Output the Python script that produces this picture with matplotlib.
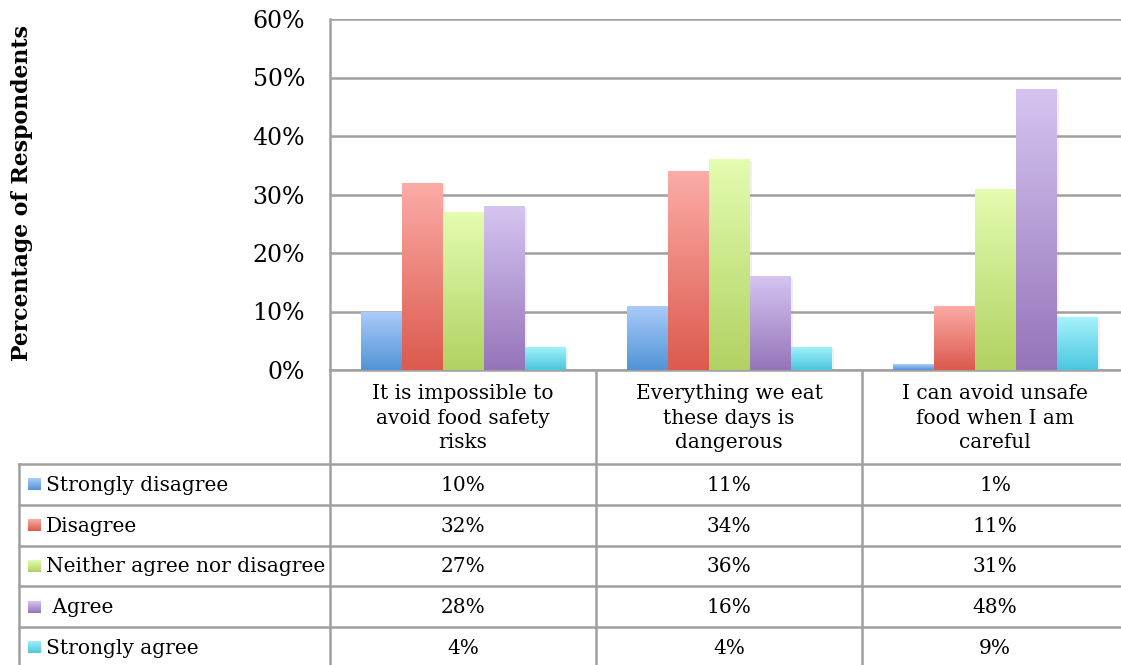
import numpy as np
import matplotlib
matplotlib.use("Agg")
import matplotlib.pyplot as plt
from matplotlib.lines import Line2D
import matplotlib.patheffects as pe
from matplotlib.colors import to_rgb

# ---- data -------------------------------------------------------------
statements = [
    "It is impossible to\navoid food safety\nrisks",
    "Everything we eat\nthese days is\ndangerous",
    "I can avoid unsafe\nfood when I am\ncareful",
]
responses = ["Strongly disagree", "Disagree", "Neither agree nor disagree",
             " Agree", "Strongly agree"]
strongly_disagree = [10, 11, 1]
disagree = [32, 34, 11]
neither = [27, 36, 31]
agree = [28, 16, 48]
strongly_agree = [4, 4, 9]
series = [strongly_disagree, disagree, neither, agree, strongly_agree]

y_ticks = [0, 10, 20, 30, 40, 50, 60]
y_label = "Percentage of Respondents"

# gradient colours (top, bottom) per response
shades = [("#aacbfa", "#5294d6"),
          ("#fbaca6", "#dc5a4e"),
          ("#e3fcb0", "#b1d262"),
          ("#d5c4f0", "#9575ba"),
          ("#a4f2fc", "#4cc6df")]

# ---- figure -----------------------------------------------------------
W, H = 1121, 665
fig = plt.figure(figsize=(W / 100, H / 100), dpi=100)
fig.patch.set_facecolor("white")
FONT = "DejaVu Serif"
GRID = "#a0a0a0"


def fx(x):
    return x / W


def fy(y):
    return 1 - y / H


plot_left, plot_top, plot_bottom, col_w = 330, 19, 370, 266
ax = fig.add_axes([fx(plot_left), fy(plot_bottom), 3 * col_w / W,
                   (plot_bottom - plot_top) / H])
ax.set_xlim(-0.5, 2.5)
ax.set_ylim(0, 60)


def gradient(top, bottom, n=64):
    t = np.linspace(0, 1, n)[:, None]
    c0, c1 = np.array(to_rgb(top)), np.array(to_rgb(bottom))
    return (c0 * (1 - t) + c1 * t)[:, None, :]


bar_w = 41 / col_w
x = np.arange(len(statements))
for i, vals in enumerate(series):
    top, bottom = shades[i]
    bars = ax.bar(x + (i - 2) * bar_w, vals, width=bar_w, color=bottom,
                  linewidth=0, zorder=3)
    for b in bars:
        b.set_path_effects([pe.SimplePatchShadow(offset=(2, -1),
                                                 shadow_rgbFace="#999999",
                                                 alpha=0.14), pe.Normal()])
        x0, y0 = b.get_x(), b.get_y()
        im = ax.imshow(gradient(top, bottom),
                       extent=(x0, x0 + b.get_width(), y0, y0 + b.get_height()),
                       aspect="auto", origin="upper", zorder=4,
                       interpolation="bilinear")
        im.set_clip_path(b)

ax.set_xlim(-0.5, 2.5)
ax.set_ylim(0, 60)
ax.set_yticks(y_ticks)
ax.set_yticklabels([f"{t}%" for t in y_ticks], fontfamily=FONT, fontsize=17)
ax.tick_params(axis="y", length=0, pad=18)
ax.set_xticks([])
ax.yaxis.grid(True, color=GRID, linewidth=1.8, zorder=0)
ax.set_axisbelow(True)
for s in ["top", "right"]:
    ax.spines[s].set_visible(False)
for s in ["left", "bottom"]:
    ax.spines[s].set_color(GRID)
    ax.spines[s].set_linewidth(1.8)

fig.text(fx(22), fy(193), y_label, rotation=90, ha="center", va="center",
         fontfamily=FONT, fontweight="bold", fontsize=15.8)

# ---- data table ---------------------------------------------------------
header_bottom = 464
row_h = 40.75
table_left = 19
col_edges = [plot_left + k * col_w for k in range(len(statements) + 1)]


def hline(y, x0, x1):
    fig.add_artist(Line2D([fx(x0), fx(x1)], [fy(y), fy(y)], color=GRID,
                          linewidth=1.8))


def vline(x_, y0, y1):
    fig.add_artist(Line2D([fx(x_), fx(x_)], [fy(y0), fy(y1)], color=GRID,
                          linewidth=1.8))


vline(plot_left, plot_bottom, H)
for e in col_edges[1:-1]:
    vline(e, plot_bottom, H)
vline(table_left, header_bottom, H)
for r in range(len(responses)):
    hline(header_bottom + r * row_h, table_left, W)

for j, lab in enumerate(statements):
    cx = (col_edges[j] + col_edges[j + 1]) / 2
    fig.text(fx(cx), fy((plot_bottom + header_bottom) / 2 + 1), lab,
             ha="center", va="center", fontfamily=FONT, fontsize=14.5,
             linespacing=1.35)

for r, (name, vals) in enumerate(zip(responses, series)):
    cy = header_bottom + (r + 0.5) * row_h
    fig.text(fx(46), fy(cy + 1), name, ha="left", va="center",
             fontfamily=FONT, fontsize=14.5)
    kax = fig.add_axes([fx(28), fy(cy + 6), 13 / W, 12 / H])
    kax.imshow(gradient(*shades[r]), aspect="auto", origin="upper",
               interpolation="bilinear")
    kax.set_axis_off()
    for j, v in enumerate(vals):
        cx = (col_edges[j] + col_edges[j + 1]) / 2
        fig.text(fx(cx), fy(cy + 1), f"{v:.0f}%", ha="center", va="center",
                 fontfamily=FONT, fontsize=14.5)

fig.savefig("out.png", dpi=100, facecolor="white")
